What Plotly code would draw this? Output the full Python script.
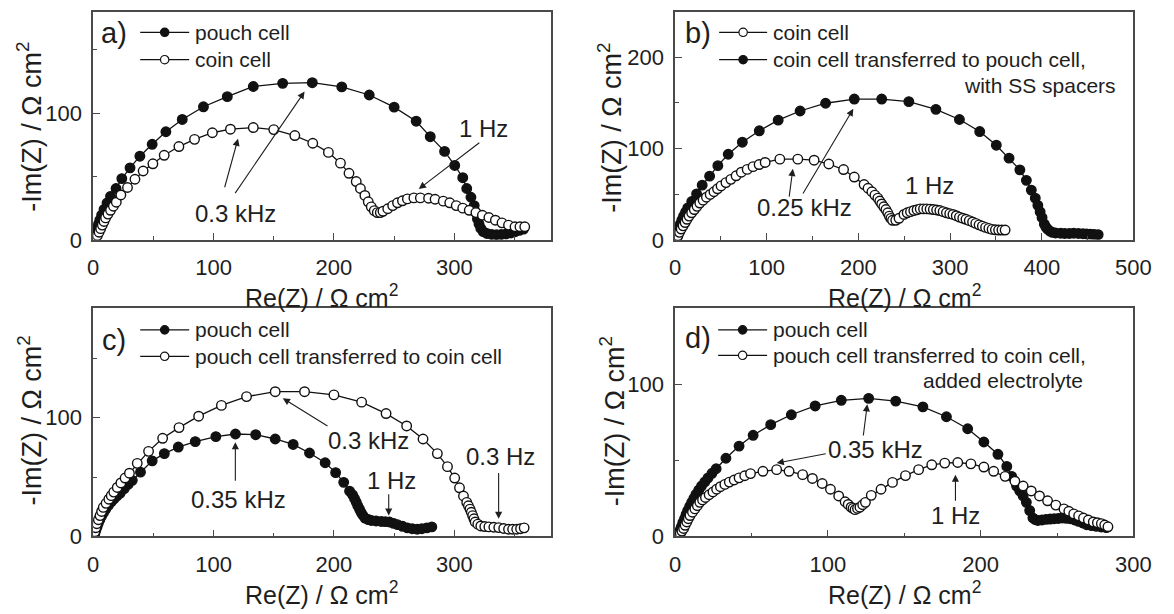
import plotly.graph_objects as go

W, H = 1174, 614
FONT = "Liberation Sans, Arial, Helvetica, sans-serif"
INK = "#1e1e1e"
FRAME = "#4a4a4a"

# ---------------- a) pouch cell vs coin cell ----------------
a_pouch_re = [0.8, 1.5, 2.2, 3.2, 4.2, 5.5, 7.0, 9.0, 11.5, 14.4, 19.0, 23.8, 30.6, 38.8, 49.0,
              60.4, 74.0, 91.6, 111.4, 133.0, 157.4, 182.0, 206.5, 229.3, 250.0, 268.3, 280.0,
              291.9, 300.3, 307.0, 310.3, 313.8, 316.5, 318.0, 319.2, 320.5, 322.0, 324.0, 327.0,
              331.0, 335.0, 339.0, 343.0, 347.0, 350.5, 354.0, 357.5]
a_pouch_im = [1.0, 3.0, 6.4, 9.0, 12.0, 15.5, 19.5, 24.0, 29.0, 34.3, 40.5, 48.3, 56.8, 66.0, 75.4,
              85.3, 95.0, 105.0, 113.0, 121.0, 123.5, 124.0, 120.7, 114.3, 104.7, 93.6, 81.4,
              69.8, 58.7, 49.0, 40.5, 33.6, 27.0, 21.5, 16.5, 12.5, 9.0, 6.5, 5.0,
              4.2, 4.0, 4.2, 4.6, 5.4, 6.4, 7.5, 8.5]
a_coin_re = [1.0, 2.2, 3.5, 4.9, 6.2, 7.6, 9.0, 10.3, 12.3, 14.4, 16.8, 19.2, 23.0, 28.5, 34.7,
             41.5, 49.6, 59.0, 71.2, 84.2, 99.0, 114.0, 133.0, 150.0, 167.5, 182.4, 195.4, 205.4,
             212.5, 218.5, 222.0, 225.7, 228.5, 231.0, 233.5, 236.0, 238.5, 240.7, 244.7, 248.8,
             252.8, 256.9, 261.0, 266.4, 271.8, 278.6, 284.0, 290.8, 296.2, 301.6, 307.0, 312.4,
             317.9, 323.3, 328.7, 334.1, 339.6, 345.0, 350.4, 354.5, 358.5]
a_coin_im = [0.5, 1.3, 3.5, 6.0, 8.8, 11.6, 14.5, 17.3, 20.3, 23.3, 26.5, 29.7, 35.4, 41.3, 47.8,
             54.3, 60.0, 66.7, 73.6, 79.3, 84.5, 87.3, 88.6, 87.0, 82.3, 76.2, 69.0, 60.5,
             52.5, 46.0, 40.5, 35.0, 30.0, 26.0, 23.0, 21.5, 21.5, 22.5, 24.5, 27.0,
             29.2, 30.8, 32.3, 33.1, 33.1, 32.8, 32.0, 30.5, 29.2, 27.0, 25.0, 23.3,
             21.5, 19.4, 17.6, 15.5, 13.4, 11.6, 10.3, 10.3, 10.3]

# ---------------- b) coin cell vs transferred to pouch ----------------
b_coin_re = [1.4, 2.3, 3.2, 4.9, 6.7, 8.8, 11.0, 13.1, 15.3, 18.1, 21.0, 24.0, 27.0, 30.6, 34.2,
             38.3, 42.4, 46.3, 50.2, 55.5, 60.9, 66.6, 72.3, 78.7, 85.1, 91.7, 98.3, 114.3,
             133.9, 151.7, 167.7, 183.8, 195.5, 206.2, 210.5, 214.7, 218.0, 221.2, 223.3, 225.4,
             227.7, 230.0, 232.0, 233.7, 235.4, 237.2, 240.7, 244.3, 249.7, 253.2, 256.8, 260.4,
             264.0, 267.4, 271.0, 274.6, 278.2, 281.7, 285.3, 288.8, 292.4, 296.0, 299.6, 303.1,
             306.7, 310.2, 313.8, 317.3, 320.9, 324.5, 328.0, 331.6, 335.2, 338.7, 342.3, 345.8,
             349.4, 352.9, 356.5, 360.0]
b_coin_im = [1.0, 2.8, 4.6, 8.2, 11.8, 15.3, 18.9, 22.5, 26.0, 29.6, 33.2, 36.7, 40.3, 43.5, 46.7,
             49.7, 52.7, 55.9, 59.1, 62.7, 66.3, 70.2, 74.1, 77.2, 80.2, 82.5, 84.8, 88.4,
             88.4, 87.3, 83.1, 77.0, 68.8, 60.6, 56.5, 52.7, 49.0, 45.7, 42.5, 39.3,
             36.2, 33.2, 29.6, 26.0, 23.5, 21.4, 21.4, 23.6, 27.8, 29.6, 30.9, 32.1,
             33.0, 33.9, 33.9, 33.9, 33.6, 33.2, 32.7, 32.1, 30.9, 29.6, 28.7, 27.8,
             26.4, 24.9, 23.7, 22.5, 21.0, 19.6, 18.0, 16.4, 15.0, 13.6, 12.5, 11.4,
             11.0, 10.7, 10.7, 10.7]
b_pouch_re = [1.4, 2.3, 3.2, 4.4, 5.7, 7.4, 9.3, 11.5, 13.9, 18.2, 23.5, 29.6, 37.7, 46.7, 58.0,
              73.4, 91.9, 112.5, 136.4, 164.2, 195.5, 225.4, 255.0, 284.5, 310.2, 332.3, 350.4,
              364.3, 376.1, 383.2, 388.6, 392.9, 395.7, 398.2, 400.3, 402.8, 404.5, 406.3, 409.0,
              411.6, 415.0, 420.6, 425.0, 430.0, 434.8, 440.0, 445.0, 449.0, 453.0, 457.0, 461.5]
b_pouch_im = [1.0, 4.5, 8.2, 12.5, 17.1, 21.5, 26.0, 30.5, 35.0, 42.0, 50.3, 59.9, 69.8, 81.3, 93.8,
              107.0, 119.5, 131.2, 141.2, 149.7, 154.3, 154.3, 151.5, 143.0, 131.9, 118.7, 103.7,
              89.5, 76.7, 65.2, 54.5, 45.7, 37.8, 30.7, 24.3, 17.1, 14.0, 11.8, 9.5,
              8.2, 7.5, 7.2, 7.0, 7.0, 7.2, 7.0, 6.7, 6.4, 6.2, 6.0, 5.7]

# ---------------- c) pouch cell vs transferred to coin ----------------
c_pouch_re = [0.8, 1.5, 2.3, 3.2, 4.3, 5.5, 7.0, 8.6, 10.5, 12.6, 15.0, 17.3, 19.8, 22.5, 25.8,
              29.0, 32.5, 39.3, 49.0, 59.1, 70.7, 84.8, 101.9, 118.2, 135.0, 151.2, 166.1, 179.7,
              192.7, 201.4, 208.1, 213.0, 215.5, 217.1, 218.5, 219.8, 221.2, 222.5, 224.0, 225.8,
              228.5, 231.1, 235.0, 239.3, 242.7, 246.1, 249.5, 252.8, 257.0, 261.0, 265.0, 269.1,
              273.0, 277.2, 281.3]
c_pouch_im = [1.0, 3.0, 5.5, 8.0, 11.0, 14.0, 17.0, 20.0, 23.0, 26.0, 29.0, 31.5, 34.0, 36.5, 40.3,
              43.7, 47.2, 54.1, 63.6, 69.7, 75.2, 79.8, 84.0, 86.2, 85.6, 82.0, 77.4, 70.2,
              62.0, 53.7, 45.5, 38.1, 35.0, 31.9, 28.8, 25.8, 23.0, 20.3, 17.8, 15.4,
              14.2, 13.4, 13.0, 12.6, 12.4, 12.1, 11.0, 9.9, 8.5, 7.2, 6.5, 6.0,
              6.5, 7.2, 8.0]
c_coin_re = [0.8, 1.4, 2.2, 3.0, 4.3, 5.7, 7.0, 8.4, 10.7, 13.0, 15.0, 17.1, 20.0, 23.0, 26.5,
             30.1, 36.6, 46.0, 57.7, 71.3, 87.6, 106.5, 127.4, 151.2, 175.6, 200.0, 223.0, 243.3,
             260.4, 274.0, 285.9, 294.3, 300.3, 304.3, 307.6, 310.3, 311.7, 313.0, 314.1, 315.2,
             316.3, 317.3, 319.5, 322.0, 325.3, 328.7, 332.8, 336.9, 341.0, 345.0, 348.4, 351.8,
             355.0, 358.0]
c_coin_im = [1.0, 3.9, 7.3, 10.7, 14.0, 17.5, 21.0, 24.4, 27.8, 31.3, 34.3, 37.3, 41.2, 45.0, 49.1,
             53.2, 61.5, 71.6, 82.6, 91.6, 101.2, 110.3, 117.7, 121.8, 121.8, 119.1, 113.0, 103.4,
             93.0, 82.0, 69.7, 58.7, 49.1, 40.9, 34.0, 28.6, 25.8, 23.0, 20.3, 17.5,
             14.8, 12.1, 10.3, 8.8, 8.3, 8.0, 7.7, 7.4, 6.7, 6.0, 6.0, 6.0,
             6.5, 7.2]

# ---------------- d) pouch cell vs transferred to coin, added electrolyte ----------------
d_pouch_re = [0.8, 1.6, 2.4, 3.2, 4.1, 5.1, 6.2, 7.2, 8.3, 9.6, 10.9, 12.3, 13.7, 15.5, 17.3,
              19.5, 21.6, 24.2, 26.9, 33.3, 41.9, 51.1, 62.6, 76.1, 91.7, 108.8, 126.7, 144.4,
              162.2, 177.6, 191.5, 202.1, 211.3, 217.1, 220.3, 223.5, 225.6, 227.8, 229.9, 232.1,
              234.2, 235.8, 237.4, 240.1, 242.8, 245.5, 248.1, 250.8, 253.4, 256.1, 258.8, 261.5,
              264.1, 266.8, 269.4, 272.6, 275.8, 279.0, 282.2]
d_pouch_im = [0.5, 1.2, 1.9, 4.0, 6.3, 9.0, 11.6, 14.3, 17.0, 19.7, 22.4, 25.0, 27.7, 30.4, 33.1,
              35.8, 38.5, 41.5, 44.5, 51.4, 59.4, 66.5, 73.5, 80.0, 85.8, 89.5, 90.8, 89.0,
              85.2, 78.7, 70.8, 62.1, 54.0, 46.0, 39.5, 33.1, 29.9, 26.6, 22.4, 17.0,
              12.1, 11.0, 10.5, 10.8, 11.2, 11.4, 11.6, 11.8, 12.1, 11.9, 11.6, 10.8,
              9.9, 8.8, 7.7, 7.1, 6.6, 6.2, 5.8]
d_coin_re = [0.8, 2.0, 3.4, 4.5, 5.6, 6.6, 7.7, 8.7, 9.8, 11.4, 13.0, 14.6, 16.2, 18.0, 19.9,
             22.3, 24.8, 27.2, 29.7, 32.6, 35.5, 38.7, 41.9, 45.6, 49.4, 57.5, 66.5, 74.6,
             83.5, 89.9, 96.3, 101.7, 107.1, 111.3, 113.3, 115.2, 116.5, 117.8, 119.4, 121.0,
             122.8, 124.6, 128.4, 134.8, 142.3, 150.8, 159.4, 168.0, 176.5, 185.0, 193.6, 202.1,
             208.5, 216.0, 222.4, 227.8, 233.1, 238.5, 243.8, 249.2, 254.5, 257.7, 260.9, 264.1,
             267.3, 270.5, 273.7, 276.4, 279.0, 281.2, 283.3]
d_coin_im = [0.3, 1.0, 1.9, 3.5, 5.2, 7.3, 9.5, 11.6, 13.7, 15.9, 18.1, 20.2, 22.4, 24.0, 25.6,
             27.4, 29.2, 31.0, 32.7, 34.2, 35.7, 37.1, 38.5, 39.9, 41.3, 42.8, 43.9, 42.8,
             40.6, 38.1, 34.8, 31.0, 26.6, 22.8, 21.0, 19.2, 18.4, 17.6, 18.4, 19.2,
             20.8, 22.4, 27.0, 31.0, 35.5, 40.0, 43.9, 47.1, 48.2, 48.6, 47.7, 45.6,
             42.8, 39.5, 36.3, 33.1, 29.9, 26.6, 23.4, 20.6, 18.1, 16.5, 14.8, 13.5,
             12.1, 10.8, 9.5, 9.0, 8.4, 7.5, 6.3]

for xs, ys in [(a_pouch_re, a_pouch_im), (a_coin_re, a_coin_im), (b_coin_re, b_coin_im),
               (b_pouch_re, b_pouch_im), (c_pouch_re, c_pouch_im), (c_coin_re, c_coin_im),
               (d_pouch_re, d_pouch_im), (d_coin_re, d_coin_im)]:
    assert len(xs) == len(ys), (len(xs), len(ys))

# panel -> axis ranges
x_ranges = {"a": [0, 380], "b": [0, 500], "c": [0, 380], "d": [0, 300]}
y_ranges = {"a": [0, 180], "b": [0, 250], "c": [0, 192], "d": [0, 150]}
axis_ids = {"a": ("x", "y"), "b": ("x2", "y2"), "c": ("x3", "y3"), "d": ("x4", "y4")}


def px(x, y):
    """pixel position -> paper coordinates"""
    return x / W, 1 - y / H


fig = go.Figure()


def series(panel, xs, ys, filled):
    xa, ya = axis_ids[panel]
    fig.add_trace(go.Scatter(
        x=xs, y=ys, xaxis=xa, yaxis=ya, mode="lines+markers",
        line=dict(color="#111111", width=1.3),
        marker=dict(symbol="circle", size=9.5,
                    color="#111111" if filled else "white",
                    line=dict(color="#111111", width=1.4)),
        showlegend=False, hoverinfo="skip"))


series("a", a_pouch_re, a_pouch_im, True)
series("a", a_coin_re, a_coin_im, False)
series("b", b_pouch_re, b_pouch_im, True)
series("b", b_coin_re, b_coin_im, False)
series("c", c_pouch_re, c_pouch_im, True)
series("c", c_coin_re, c_coin_im, False)
series("d", d_pouch_re, d_pouch_im, True)
series("d", d_coin_re, d_coin_im, False)

tickfont = dict(family=FONT, size=22, color=INK)


def axis(rng, domain, anchor, standoff):
    return dict(range=rng, domain=domain, anchor=anchor, showline=True, mirror=True,
                linecolor=FRAME, linewidth=1.5, ticks="inside", ticklen=7, tickwidth=1.3,
                tickcolor=FRAME, dtick=100, tick0=0, showgrid=False, zeroline=False,
                tickfont=tickfont, fixedrange=True, ticklabelstandoff=standoff,
                minor=dict(ticks="inside", ticklen=4, tickwidth=1.2, tickcolor=FRAME, dtick=50))


xd_left = [89 / W, 556 / W]
xd_right = [683 / W, 1151 / W]
yd_top = [1 - 245 / H, 1 - 12 / H]
yd_bot = [1 - 548 / H, 1 - 315 / H]

fig.update_layout(
    width=W, height=H, margin=dict(l=0, r=0, t=0, b=0),
    paper_bgcolor="white", plot_bgcolor="white",
    font=dict(family=FONT, color=INK),
    xaxis=axis(x_ranges["a"], xd_left, "y", 7),
    yaxis=axis(y_ranges["a"], yd_top, "x", 5),
    xaxis2=axis(x_ranges["b"], xd_right, "y2", 7),
    yaxis2=axis(y_ranges["b"], yd_top, "x2", 5),
    xaxis3=axis(x_ranges["c"], xd_left, "y3", 7),
    yaxis3=axis(y_ranges["c"], yd_bot, "x3", 5),
    xaxis4=axis(x_ranges["d"], xd_right, "y4", 7),
    yaxis4=axis(y_ranges["d"], yd_bot, "x4", 5),
)

ann = []
shapes = []

# axis titles
ytitle = "-Im(Z) / Ω cm<sup>2</sup>"
xtitle = "Re(Z) / Ω cm<sup>2</sup>"
for (cx, cy) in [(24, 130), (617, 130), (24, 430), (619, 430)]:
    x, y = px(cx, cy)
    ann.append(dict(text=ytitle, x=x, y=y, xref="paper", yref="paper", showarrow=False,
                    textangle=-90, xanchor="center", yanchor="middle",
                    font=dict(family=FONT, size=27, color=INK)))
for (cx, cy) in [(322, 302), (917, 302), (322, 606), (917, 606)]:
    x, y = px(cx, cy)
    ann.append(dict(text=xtitle, x=x, y=y, xref="paper", yref="paper", showarrow=False,
                    xanchor="center", yanchor="middle",
                    font=dict(family=FONT, size=25, color=INK)))

# panel letters and legends
legend_font = dict(family=FONT, size=21, color=INK)


def legend_row(x0, x1, y, filled, label):
    xa, ya = px(x0, y)
    xb, _ = px(x1, y)
    shapes.append(dict(type="line", xref="paper", yref="paper", x0=xa, x1=xb, y0=ya, y1=ya,
                       line=dict(color="#111111", width=1.3), layer="above"))
    xm, _ = px((x0 + x1) / 2, y)
    shapes.append(dict(type="circle", xref="paper", yref="paper", xsizemode="pixel",
                       ysizemode="pixel", xanchor=xm, yanchor=ya, x0=-4.2, x1=4.2, y0=-4.2, y1=4.2,
                       fillcolor="#111111" if filled else "white",
                       line=dict(color="#111111", width=1.2), layer="above"))
    xt, _ = px(x1 + 4, y)
    ann.append(dict(text=label, x=xt, y=ya, xref="paper", yref="paper", showarrow=False,
                    xanchor="left", yanchor="middle", font=legend_font))


def text_right(xr, y, label):
    x, yy = px(xr, y)
    ann.append(dict(text=label, x=x, y=yy, xref="paper", yref="paper", showarrow=False,
                    xanchor="right", yanchor="middle", font=legend_font))


def letter(cx, cy, label):
    x, y = px(cx, cy)
    ann.append(dict(text=label, x=x, y=y, xref="paper", yref="paper", showarrow=False,
                    xanchor="center", yanchor="middle",
                    font=dict(family=FONT, size=29, color=INK)))


letter(110, 34, "a)")
legend_row(137, 187, 33, True, "pouch cell")
legend_row(137, 187, 61, False, "coin cell")

letter(706, 34, "b)")
legend_row(728, 777, 33, False, "coin cell")
legend_row(728, 777, 61, True, "coin cell transferred to pouch cell,")
text_right(1135, 87, "with SS spacers")

letter(110, 347, "c)")
legend_row(137, 187, 337, True, "pouch cell")
legend_row(137, 187, 364, False, "pouch cell transferred to coin cell")

letter(706, 345, "d)")
legend_row(727, 777, 337, True, "pouch cell")
legend_row(727, 777, 363, False, "pouch cell transferred to coin cell,")
text_right(1102, 389, "added electrolyte")

# frequency labels and arrows (data coordinates)
note_font = dict(family=FONT, size=24, color=INK)


def note(panel, x, y, label):
    xa, ya = axis_ids[panel]
    ann.append(dict(text=label, x=x, y=y, xref=xa, yref=ya, showarrow=False,
                    xanchor="center", yanchor="middle", font=note_font))


def arrow(panel, tail, tip):
    xa, ya = axis_ids[panel]
    ann.append(dict(text="", x=tip[0], y=tip[1], ax=tail[0], ay=tail[1], xref=xa, yref=ya,
                    axref=xa, ayref=ya, showarrow=True, arrowhead=2, arrowsize=1.3,
                    arrowwidth=1.1, arrowcolor=INK, standoff=0, startstandoff=0))


note("a", 118, 21, "0.3 kHz")
arrow("a", (108.9, 40.3), (120.3, 79.8))
arrow("a", (117.1, 35.7), (175.6, 117.0))
note("a", 324, 88, "1 Hz")
arrow("a", (322.0, 77.5), (270.5, 40.1))

note("b", 141, 35.6, "0.25 kHz")
arrow("b", (124.3, 45.7), (128.5, 77.8))
arrow("b", (138.6, 49.2), (194.4, 143.6))
note("b", 278, 60, "1 Hz")

note("c", 120.6, 31.3, "0.35 kHz")
arrow("c", (118.1, 45.5), (118.1, 79.3))
note("c", 228.5, 80.7, "0.3 kHz")
arrow("c", (195.9, 92.2), (157.5, 116.3))
note("c", 248, 47.2, "1 Hz")
arrow("c", (245.5, 36.8), (245.5, 17.5))
note("c", 338.2, 66.9, "0.3 Hz")
arrow("c", (336.8, 54.6), (336.8, 14.8))

note("d", 131.4, 57.2, "0.35 kHz")
arrow("d", (123.1, 65.4), (125.8, 86.9))
arrow("d", (99.6, 54.6), (66.5, 48.2))
note("d", 183.5, 13.7, "1 Hz")
arrow("d", (183.5, 22.4), (183.5, 40.6))

fig.update_layout(annotations=ann, shapes=shapes)
fig.write_html("out.html")
